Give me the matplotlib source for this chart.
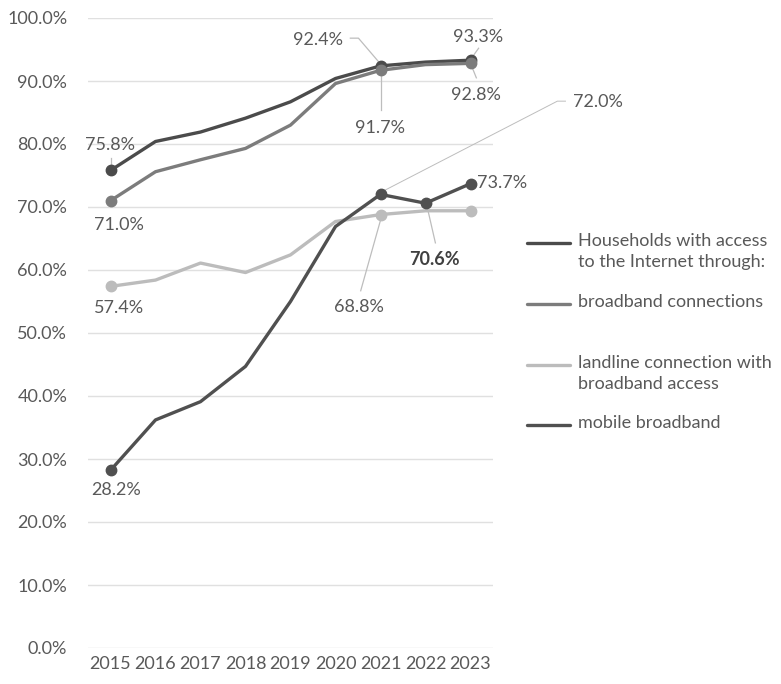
import matplotlib.pyplot as plt
from matplotlib.lines import Line2D
from matplotlib.ticker import PercentFormatter

plt.rcParams['font.family'] = ['Lato', 'DejaVu Sans']

# Data (percent of households)
years = ['2015', '2016', '2017', '2018', '2019', '2020', '2021', '2022', '2023']
households = [75.8, 80.4, 81.9, 84.1, 86.7, 90.4, 92.4, 93.0, 93.3]
broadband  = [71.0, 75.6, 77.5, 79.3, 83.0, 89.6, 91.7, 92.6, 92.8]
landline   = [57.4, 58.4, 61.1, 59.6, 62.4, 67.7, 68.8, 69.4, 69.4]
mobile     = [28.2, 36.2, 39.1, 44.7, 55.0, 66.9, 72.0, 70.6, 73.7]

legend_labels = ['Households with access\nto the Internet through:',
                 'broadband connections',
                 'landline connection with\nbroadband access',
                 'mobile broadband']

c_house, c_broad, c_land, c_mob = '#4b4b4b', '#7c7c7c', '#bcbcbc', '#505050'
txt_c = '#595959'
lead_c = '#bdbdbd'
fs = 13

fig = plt.figure(figsize=(7.81, 6.84), dpi=100)
ax = fig.add_axes([88 / 781, 1 - 648 / 684, (493 - 88) / 781, (648 - 18) / 684])

x = list(range(len(years)))
kw = dict(lw=2.4, marker='o', ms=7.5, solid_capstyle='round', solid_joinstyle='round')
ax.plot(x, landline, color=c_land, markevery=[0, 6, 8], **kw)
ax.plot(x, mobile, color=c_mob, markevery=[0, 6, 7, 8], **kw)
ax.plot(x, households, color=c_house, markevery=[0, 6, 8], **kw)
ax.plot(x, broadband, color=c_broad, markevery=[0, 6, 8], **kw)

ax.set_xlim(-0.5, len(years) - 0.5)
ax.set_ylim(0, 100)
ax.set_xticks(x)
ax.set_xticklabels(years)
ax.set_yticks(range(0, 101, 10))
ax.yaxis.set_major_formatter(PercentFormatter(decimals=1))
ax.grid(axis='y', color='#e0e0e0', lw=1)
ax.set_axisbelow(True)
for s in ax.spines.values():
    s.set_visible(False)
ax.tick_params(length=0, colors=txt_c, labelsize=fs)
ax.tick_params(axis='y', pad=15)
ax.tick_params(axis='x', pad=6)

# data labels
def lab(s, xy, bold=False):
    ax.text(xy[0], xy[1], s, ha='center', va='center', fontsize=fs,
            color='#404040' if bold else txt_c, weight='bold' if bold else 'normal',
            clip_on=False)

def lead(xs, ys, lw=0.9):
    ax.plot(xs, ys, color=lead_c, lw=lw, clip_on=False, zorder=1)

lab('75.8%', (0, 79.8)); lead([0, 0], [76.6, 77.8])
lab('71.0%', (0.18, 67.1))
lab('57.4%', (0.18, 54.0))
lab('28.2%', (0.13, 25.1))
lab('92.4%', (4.6, 96.5)); lead([6, 5.51, 5.33], [92.7, 96.8, 96.8])
lab('91.7%', (6, 82.5)); lead([6, 6], [91.0, 85.4])
lab('93.3%', (8.16, 97.0)); lead([8.04, 8.18], [93.8, 95.2])
lab('92.8%', (8.11, 87.8)); lead([8.04, 8.13], [92.1, 90.5])
lab('72.0%', (10.84, 86.7)); lead([6.08, 9.93, 10.11], [72.6, 86.8, 86.8], lw=0.7)
lab('73.7%', (8.71, 73.8))
lab('70.6%', (7.2, 61.6), bold=True); lead([7.05, 7.22], [69.6, 64.3])
lab('68.8%', (5.53, 54.1)); lead([6, 5.56], [67.9, 56.7])

# legend drawn by hand so the line sits by the first text row
leg_y = [243, 304, 365, 425]
for lbl, col, py in zip(legend_labels, [c_house, c_broad, c_land, c_mob], leg_y):
    fy = 1 - py / 684
    fig.add_artist(Line2D([527 / 781, 570 / 781], [fy, fy], color=col, lw=2.4,
                          solid_capstyle='round'))
    fig.text(578 / 781, fy + 10 / 684, lbl, ha='left', va='top', fontsize=fs,
             color=txt_c, linespacing=1.35)

fig.savefig('out.png', dpi=100)
